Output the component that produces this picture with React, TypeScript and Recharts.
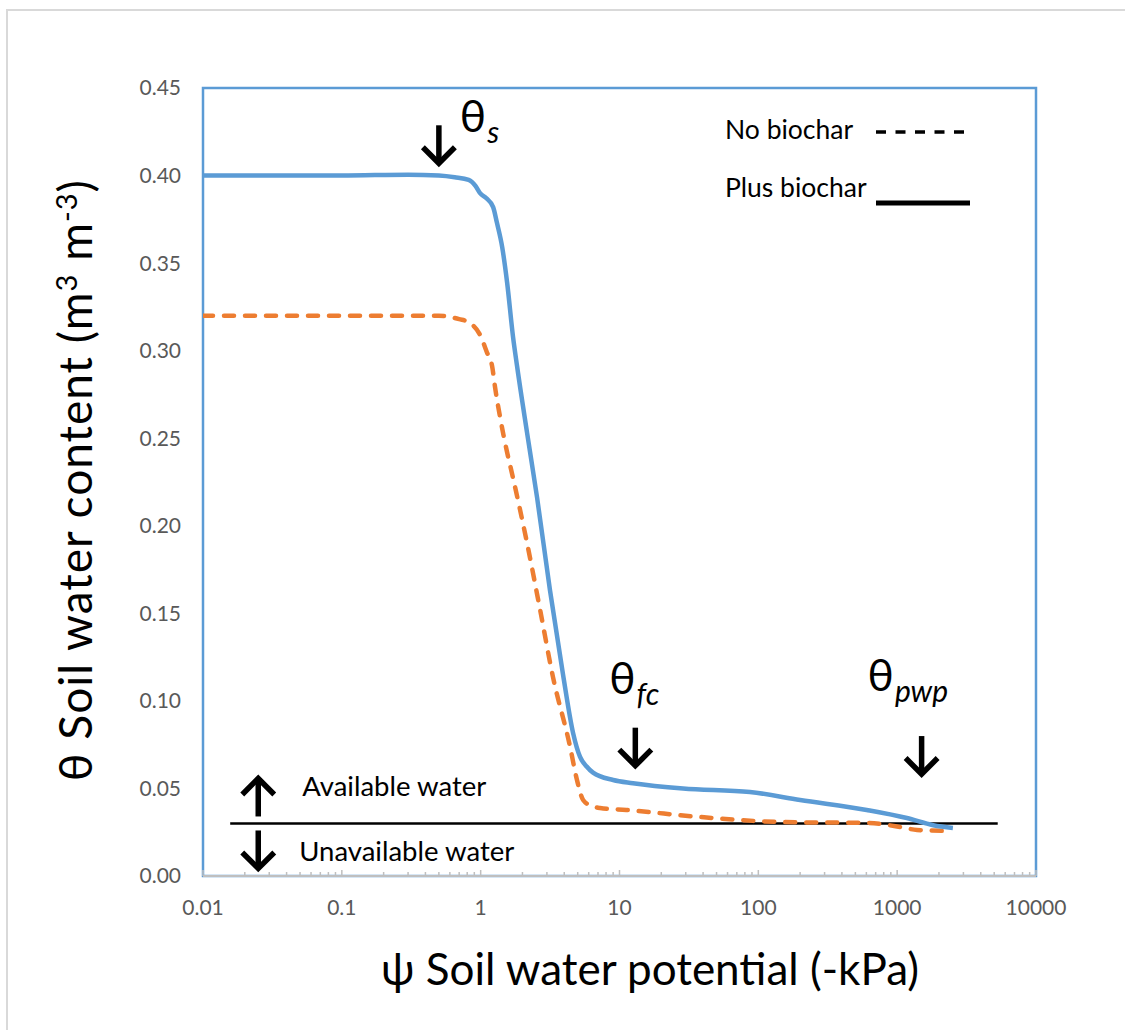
import React from "react";
import { LineChart, Line, XAxis, YAxis, ReferenceArea, ReferenceDot } from "recharts";

// Plus biochar (solid blue): soil water potential (-kPa) vs water content
const PSI_PLUS = [0.01, 0.1, 0.3, 0.5, 0.65, 0.82, 0.92, 0.99, 1.1, 1.23, 1.31, 1.43, 1.55, 1.71, 1.83, 2.16, 2.55, 3.16, 3.92, 4.63, 5.2, 5.8, 6.45, 9.0, 12.5, 28.7, 87, 200, 603, 1175, 1820, 2520];
const THETA_PLUS = [0.4, 0.4, 0.4005, 0.4, 0.399, 0.3975, 0.394, 0.39, 0.387, 0.382, 0.373, 0.359, 0.339, 0.308, 0.291, 0.253, 0.216, 0.163, 0.115, 0.0817, 0.068, 0.0625, 0.059, 0.0548, 0.053, 0.05, 0.048, 0.0434, 0.0377, 0.0331, 0.029, 0.0274];

// No biochar (dashed orange)
const PSI_NO = [0.01, 0.1, 0.5, 0.7, 0.83, 0.99, 1.11, 1.21, 1.27, 1.38, 1.55, 1.68, 2.16, 2.68, 3.31, 4.41, 4.94, 5.47, 6.3, 7.25, 11.2, 38, 150, 603, 1050, 1390, 2410];
const THETA_NO = [0.32, 0.32, 0.32, 0.318, 0.316, 0.309, 0.299, 0.291, 0.279, 0.262, 0.242, 0.23, 0.19, 0.152, 0.114, 0.0737, 0.0548, 0.0434, 0.04, 0.0388, 0.0377, 0.0337, 0.0308, 0.0303, 0.028, 0.0263, 0.0257];

// available / unavailable water boundary
const LIMIT_PSI = [0.0157, 5300];
const LIMIT_THETA = [0.03, 0.03];

const Y_TICKS = [0, 0.05, 0.1, 0.15, 0.2, 0.25, 0.3, 0.35, 0.4, 0.45];
const X_DECADES = [0.01, 0.1, 1, 10, 100, 1000, 10000];
const X_MULTIPLES = [1, 2, 3, 4, 5, 6, 7, 8, 9];

// annotation anchors (arrow tips) in data units
const NOTE_S = { psi: 0.5, theta: 0.407 };
const NOTE_FC = { psi: 13, theta: 0.063 };
const NOTE_PWP = { psi: 1500, theta: 0.0605 };
const NOTE_AVAIL = { psi: 0.025, theta: 0.03 };

const toRows = (xs: number[], ys: number[]) => xs.map((psi, i) => ({ psi, theta: ys[i] }));
const plusData = toRows(PSI_PLUS, THETA_PLUS);
const noData = toRows(PSI_NO, THETA_NO);
const limitData = toRows(LIMIT_PSI, LIMIT_THETA);
const xTicks = X_DECADES.slice(0, -1)
  .flatMap((d) => X_MULTIPLES.map((m) => +(m * d).toPrecision(3)))
  .concat([10000]);

const FONT = "Lato, 'Noto Sans', sans-serif";
const BLUE = "#5b9bd5";
const ORANGE = "#ed7d31";
const GREY_TEXT = "#595959";
const AXIS_GREY = "#bfbfbf";

function XTick(props: any) {
  const { x, y, payload } = props;
  const v = payload.value;
  const major = X_DECADES.includes(v);
  return (
    <g>
      <line x1={x} x2={x} y1={y} y2={y - (major ? 6 : 4)} stroke={AXIS_GREY} strokeWidth={1.5} />
      {major && (
        <text x={x} y={y + 39} textAnchor="middle" fill={GREY_TEXT} fontSize={21} fontFamily={FONT}>
          {String(v)}
        </text>
      )}
    </g>
  );
}

function DownArrow({ x, y }: { x: number; y: number }) {
  return (
    <g stroke="#000" strokeWidth={5.5} fill="none">
      <line x1={x} x2={x} y1={y - 38} y2={y - 3} />
      <polyline points={`${x - 16},${y - 16} ${x},${y} ${x + 16},${y - 16}`} strokeLinejoin="miter" />
    </g>
  );
}

function UpArrow({ x, y }: { x: number; y: number }) {
  return (
    <g stroke="#000" strokeWidth={5.5} fill="none">
      <line x1={x} x2={x} y1={y + 38} y2={y + 3} />
      <polyline points={`${x - 16},${y + 16} ${x},${y} ${x + 16},${y + 16}`} strokeLinejoin="miter" />
    </g>
  );
}

function Theta({ x, y, sub }: { x: number; y: number; sub: string }) {
  return (
    <text x={x} y={y} fontFamily={FONT} fontSize={44} fill="#000">
      θ
      <tspan dx={1} dy={11} fontSize={30} fontStyle="italic">
        {sub}
      </tspan>
    </text>
  );
}

const noteS = (p: any) => (
  <g>
    <DownArrow x={p.cx} y={p.cy} />
    <Theta x={p.cx + 21} y={p.cy - 31} sub="s" />
  </g>
);

const noteFc = (p: any) => (
  <g>
    <DownArrow x={p.cx} y={p.cy} />
    <Theta x={p.cx - 26} y={p.cy - 72} sub="fc" />
  </g>
);

const notePwp = (p: any) => (
  <g>
    <DownArrow x={p.cx} y={p.cy + 4} />
    <Theta x={p.cx - 54} y={p.cy - 79} sub="pwp" />
  </g>
);

const noteAvail = (p: any) => (
  <g>
    <UpArrow x={p.cx} y={p.cy - 45} />
    <DownArrow x={p.cx} y={p.cy + 45} />
    <text x={p.cx + 44} y={p.cy - 27} fontFamily={FONT} fontSize={27.5} fill="#000">
      Available water
    </text>
    <text x={p.cx + 41} y={p.cy + 38} fontFamily={FONT} fontSize={27.5} fill="#000">
      Unavailable water
    </text>
  </g>
);

export default function App() {
  return (
    <div
      style={{
        position: "absolute",
        left: 0,
        top: 0,
        width: 1125,
        height: 1030,
        overflow: "hidden",
        background: "#fff",
        fontFamily: FONT,
      }}
    >
      <div
        style={{
          position: "absolute",
          left: 6,
          top: 9,
          width: 1300,
          height: 1200,
          border: "2px solid #d9d9d9",
        }}
      />
      <LineChart
        width={1125}
        height={1030}
        margin={{ top: 88, right: 89, left: 123, bottom: 94 }}
        style={{ position: "absolute", left: 0, top: 0 }}
      >
        <ReferenceArea x1={0.01} x2={10000} y1={0} y2={0.45} fill="none" stroke={BLUE} strokeWidth={2.5} />
        <XAxis
          type="number"
          dataKey="psi"
          scale="log"
          domain={[0.01, 10000]}
          allowDataOverflow
          ticks={xTicks}
          interval={0}
          tick={<XTick />}
          tickSize={0}
          tickMargin={0}
          tickLine={false}
          axisLine={{ stroke: AXIS_GREY, strokeWidth: 2 }}
          height={60}
        />
        <YAxis
          type="number"
          dataKey="theta"
          domain={[0, 0.45]}
          ticks={Y_TICKS}
          interval={0}
          tickFormatter={(v: number) => v.toFixed(2)}
          tick={{ fill: GREY_TEXT, fontSize: 21, fontFamily: FONT }}
          tickSize={0}
          tickMargin={22}
          tickLine={false}
          axisLine={false}
          width={80}
        />
        <Line data={limitData} dataKey="theta" type="linear" stroke="#000" strokeWidth={2.5} dot={false} isAnimationActive={false} />
        <Line
          data={noData}
          dataKey="theta"
          type="monotone"
          stroke={ORANGE}
          strokeWidth={4.5}
          strokeDasharray="10 11"
          strokeLinecap="round"
          dot={false}
          isAnimationActive={false}
        />
        <Line data={plusData} dataKey="theta" type="monotone" stroke={BLUE} strokeWidth={4.5} dot={false} isAnimationActive={false} />
        <ReferenceDot x={NOTE_S.psi} y={NOTE_S.theta} shape={noteS} />
        <ReferenceDot x={NOTE_FC.psi} y={NOTE_FC.theta} shape={noteFc} />
        <ReferenceDot x={NOTE_PWP.psi} y={NOTE_PWP.theta} shape={notePwp} />
        <ReferenceDot x={NOTE_AVAIL.psi} y={NOTE_AVAIL.theta} shape={noteAvail} />
      </LineChart>
      <svg width={1125} height={1030} style={{ position: "absolute", left: 0, top: 0, pointerEvents: "none" }}>
        <text x={725} y={139} fontFamily={FONT} fontSize={26.5} fill="#000">
          No biochar
        </text>
        <line x1={876} x2={964} y1={132} y2={132} stroke="#000" strokeWidth={3.5} strokeDasharray="10 9.5" />
        <text x={725} y={197} fontFamily={FONT} fontSize={26.5} fill="#000">
          Plus biochar
        </text>
        <line x1={876} x2={970} y1={203} y2={203} stroke="#000" strokeWidth={5} />
        <text x={650} y={985} textAnchor="middle" fontFamily={FONT} fontSize={44} fill="#000">
          ψ Soil water potential (-kPa)
        </text>
        <text
          transform="translate(92,480) rotate(-90)"
          textAnchor="middle"
          fontFamily={FONT}
          fontSize={46}
          letterSpacing={1}
          fill="#000"
        >
          θ Soil water content (m
          <tspan dy={-15} fontSize={29}>
            3
          </tspan>
          <tspan dy={15}> m</tspan>
          <tspan dy={-15} fontSize={29}>
            -3
          </tspan>
          <tspan dy={15}>)</tspan>
        </text>
      </svg>
    </div>
  );
}
